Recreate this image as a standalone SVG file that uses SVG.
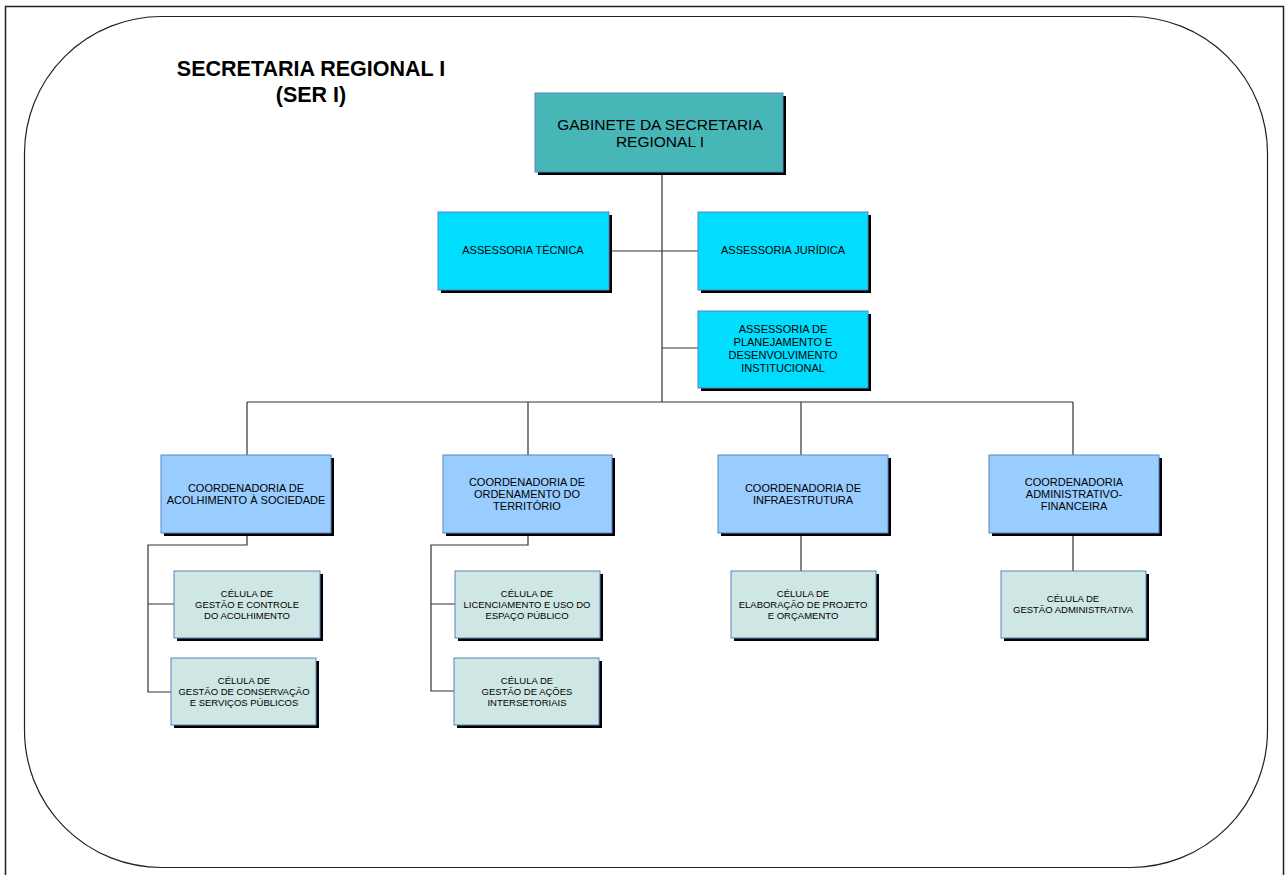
<svg xmlns="http://www.w3.org/2000/svg" width="1288" height="875" viewBox="0 0 1288 875">
<style>
  text { font-family: "Liberation Sans", Arial, sans-serif; fill: #000; text-anchor: middle; }
  .title { font-size: 21.5px; font-weight: bold; }
  .gab { font-size: 15.5px; }
  .ass { font-size: 11px; }
  .coord { font-size: 11px; }
  .cel { font-size: 9.5px; }
  .shadow { fill: #000; }
  .b-gab { fill: #46B6B6; stroke: #5A82C0; stroke-width: 1; }
  .b-ass { fill: #00DDFF; stroke: #5A82C0; stroke-width: 1; }
  .b-coord { fill: #99CCFF; stroke: #5A82C0; stroke-width: 1; }
  .b-cel { fill: #CFE7E4; stroke: #5A82C0; stroke-width: 1; }
  .conn { fill: none; stroke: #333; stroke-width: 1.2; }
</style>
<rect x="0" y="0" width="1288" height="875" fill="#fff"/>
<rect x="5.5" y="6.5" width="1278" height="880" fill="none" stroke="#222" stroke-width="1.5"/>
<rect x="24.5" y="16.5" width="1243" height="851" rx="137" ry="137" fill="none" stroke="#222" stroke-width="1.2"/>

<g id="title">
  <text class="title" x="311" y="76">SECRETARIA REGIONAL I</text>
  <text class="title" x="311" y="102">(SER I)</text>
</g>

<g id="connectors">
  <path class="conn" d="M662 172 V402"/>
  <path class="conn" d="M609 251 H698"/>
  <path class="conn" d="M662 348 H698"/>
  <path class="conn" d="M247 402 H1073"/>
  <path class="conn" d="M247 402 V455 M528 402 V455 M801 402 V455 M1073 402 V455"/>
  <path class="conn" d="M247 533 V545 H148 V692 H171 M148 604 H174"/>
  <path class="conn" d="M528 533 V545 H431 V691 H454 M431 604 H455"/>
  <path class="conn" d="M801 533 V571"/>
  <path class="conn" d="M1073 533 V571"/>
</g>

<g id="gabinete">
  <rect class="shadow" x="538" y="96" width="248" height="79"/>
  <rect class="b-gab" x="535" y="93" width="248" height="79"/>
  <text class="gab" x="660" y="130">GABINETE DA SECRETARIA</text>
  <text class="gab" x="660" y="147">REGIONAL I</text>
</g>

<g id="assessoria-tecnica">
  <rect class="shadow" x="441" y="215" width="171" height="78"/>
  <rect class="b-ass" x="438" y="212" width="171" height="78"/>
  <text class="ass" x="523" y="254">ASSESSORIA TÉCNICA</text>
</g>

<g id="assessoria-juridica">
  <rect class="shadow" x="701" y="215" width="170" height="78"/>
  <rect class="b-ass" x="698" y="212" width="170" height="78"/>
  <text class="ass" x="783" y="254">ASSESSORIA JURÍDICA</text>
</g>

<g id="assessoria-planejamento">
  <rect class="shadow" x="701" y="314" width="170" height="77"/>
  <rect class="b-ass" x="698" y="311" width="170" height="77"/>
  <text class="ass" x="783" y="333">ASSESSORIA DE</text>
  <text class="ass" x="783" y="346">PLANEJAMENTO E</text>
  <text class="ass" x="783" y="359">DESENVOLVIMENTO</text>
  <text class="ass" x="783" y="372">INSTITUCIONAL</text>
</g>

<g id="coord-acolhimento">
  <rect class="shadow" x="164" y="458" width="170" height="78"/>
  <rect class="b-coord" x="161" y="455" width="170" height="78"/>
  <text class="coord" x="246" y="492">COORDENADORIA DE</text>
  <text class="coord" x="246" y="504">ACOLHIMENTO À SOCIEDADE</text>
</g>

<g id="coord-ordenamento">
  <rect class="shadow" x="446" y="458" width="169" height="78"/>
  <rect class="b-coord" x="443" y="455" width="169" height="78"/>
  <text class="coord" x="527" y="486">COORDENADORIA DE</text>
  <text class="coord" x="527" y="498">ORDENAMENTO DO</text>
  <text class="coord" x="527" y="510">TERRITÓRIO</text>
</g>

<g id="coord-infraestrutura">
  <rect class="shadow" x="721" y="458" width="170" height="78"/>
  <rect class="b-coord" x="718" y="455" width="170" height="78"/>
  <text class="coord" x="803" y="492">COORDENADORIA DE</text>
  <text class="coord" x="803" y="504">INFRAESTRUTURA</text>
</g>

<g id="coord-administrativo">
  <rect class="shadow" x="992" y="458" width="170" height="78"/>
  <rect class="b-coord" x="989" y="455" width="170" height="78"/>
  <text class="coord" x="1074" y="486">COORDENADORIA</text>
  <text class="coord" x="1074" y="498">ADMINISTRATIVO-</text>
  <text class="coord" x="1074" y="510">FINANCEIRA</text>
</g>

<g id="cel-gestao-controle">
  <rect class="shadow" x="177" y="574" width="146" height="67"/>
  <rect class="b-cel" x="174" y="571" width="146" height="67"/>
  <text class="cel" x="247" y="597">CÉLULA DE</text>
  <text class="cel" x="247" y="608">GESTÃO E CONTROLE</text>
  <text class="cel" x="247" y="619">DO ACOLHIMENTO</text>
</g>

<g id="cel-conservacao">
  <rect class="shadow" x="174" y="661" width="145" height="67"/>
  <rect class="b-cel" x="171" y="658" width="145" height="67"/>
  <text class="cel" x="244" y="684">CÉLULA DE</text>
  <text class="cel" x="244" y="695">GESTÃO DE CONSERVAÇÃO</text>
  <text class="cel" x="244" y="706">E SERVIÇOS PÚBLICOS</text>
</g>

<g id="cel-licenciamento">
  <rect class="shadow" x="458" y="574" width="145" height="67"/>
  <rect class="b-cel" x="455" y="571" width="145" height="67"/>
  <text class="cel" x="527" y="597">CÉLULA DE</text>
  <text class="cel" x="527" y="608">LICENCIAMENTO E USO DO</text>
  <text class="cel" x="527" y="619">ESPAÇO PÚBLICO</text>
</g>

<g id="cel-intersetoriais">
  <rect class="shadow" x="457" y="661" width="145" height="67"/>
  <rect class="b-cel" x="454" y="658" width="145" height="67"/>
  <text class="cel" x="527" y="684">CÉLULA DE</text>
  <text class="cel" x="527" y="695">GESTÃO DE AÇÕES</text>
  <text class="cel" x="527" y="706">INTERSETORIAIS</text>
</g>

<g id="cel-projeto">
  <rect class="shadow" x="734" y="574" width="145" height="67"/>
  <rect class="b-cel" x="731" y="571" width="145" height="67"/>
  <text class="cel" x="803" y="597">CÉLULA DE</text>
  <text class="cel" x="803" y="608">ELABORAÇÃO DE PROJETO</text>
  <text class="cel" x="803" y="619">E ORÇAMENTO</text>
</g>

<g id="cel-administrativa">
  <rect class="shadow" x="1004" y="574" width="145" height="67"/>
  <rect class="b-cel" x="1001" y="571" width="145" height="67"/>
  <text class="cel" x="1073" y="602">CÉLULA DE</text>
  <text class="cel" x="1073" y="613">GESTÃO ADMINISTRATIVA</text>
</g>
</svg>
